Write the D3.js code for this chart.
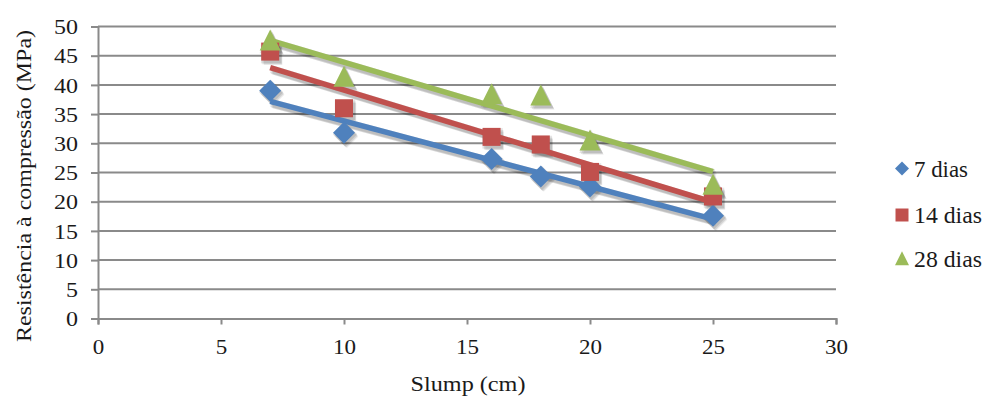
<!DOCTYPE html>
<html>
<head>
<meta charset="utf-8">
<script src="https://cdn.jsdelivr.net/npm/d3@7"></script>
</head>
<body style="margin:0;background:#fff">
<svg id="chart" width="985" height="396" style="display:block"></svg>
<script>
// Slump (cm) tested for each mix
const slump = [7, 10, 16, 18, 20, 25];

// Compressive strength (MPa) at each curing age
const dias7  = [39.0, 31.8, 27.3, 24.3, 22.6, 17.6];
const dias14 = [45.7, 36.0, 31.1, 29.8, 25.1, 20.9];
const dias28 = [47.5, 41.3, 38.3, 38.1, 30.4, 22.8];

const seriesNames  = ["7 dias", "14 dias", "28 dias"];
const seriesColors = ["#4F81BD", "#C0504D", "#9BBB59"];
const seriesShapes = ["diamond", "square", "triangle"];

const xTicks = [0, 5, 10, 15, 20, 25, 30];
const yTicks = [0, 5, 10, 15, 20, 25, 30, 35, 40, 45, 50];

const xTitle = "Slump (cm)";
const yTitle = "Resistência à compressão (MPa)";

const FONT = "Liberation Serif, Times New Roman, DejaVu Serif, serif";
const INK = "#1a1a1a";

const svg = d3.select("#chart");

const x = d3.scaleLinear().domain([0, 30]).range([98, 836]);
const y = d3.scaleLinear().domain([0, 50]).range([318.5, 26.5]);

// wide serif lettering: glyph height from font-size, run width from textLength
function styleText(sel, size, width) {
  sel.attr("font-family", FONT).attr("font-size", size).attr("fill", INK);
  if (width) sel.attr("textLength", width).attr("lengthAdjust", "spacingAndGlyphs");
  return sel;
}

const gridColor = "#8a8a8a";

// horizontal gridlines
svg.append("g").selectAll("line").data(yTicks.filter(d => d > 0)).join("line")
  .attr("x1", x(0)).attr("x2", x(30))
  .attr("y1", d => y(d)).attr("y2", d => y(d))
  .attr("stroke", gridColor).attr("stroke-width", 2);

// y axis
const yAxis = d3.axisLeft(y).tickValues(yTicks).tickSize(7).tickPadding(13).tickFormat(d3.format("d"));
const gy = svg.append("g").attr("transform", `translate(${x(0)},0)`).call(yAxis)
  .attr("font-family", FONT);
gy.select(".domain").attr("stroke", gridColor).attr("stroke-width", 2);
gy.selectAll(".tick line").attr("stroke", gridColor).attr("stroke-width", 2);
gy.selectAll(".tick text").attr("dy", "0.36em")
  .each(function(d) { styleText(d3.select(this), 20, String(d).length * 12); });

// x axis
const xAxis = d3.axisBottom(x).tickValues(xTicks).tickSize(6).tickPadding(15).tickFormat(d3.format("d"));
const gx = svg.append("g").attr("transform", `translate(0,${y(0)})`).call(xAxis)
  .attr("font-family", FONT);
gx.select(".domain").attr("stroke", gridColor).attr("stroke-width", 2);
gx.selectAll(".tick line").attr("stroke", gridColor).attr("stroke-width", 2);
gx.selectAll(".tick text")
  .each(function(d) { styleText(d3.select(this), 21, String(d).length * 11.5); });

// axis titles
styleText(svg.append("text").attr("x", 468).attr("y", 391).attr("text-anchor", "middle")
  .text(xTitle), 22, 115);
styleText(svg.append("text").attr("transform", "translate(31,186) rotate(-90)")
  .attr("text-anchor", "middle").text(yTitle), 21, 312);

// marker paths
function markerPath(shape, s) {
  if (shape === "diamond") return `M0,${-s}L${s},0L0,${s}L${-s},0Z`;
  if (shape === "square") return `M${-s},${-s}H${s}V${s}H${-s}Z`;
  return `M0,${-s * 1.1}L${s},${s * 0.9}L${-s},${s * 0.9}Z`;
}

// least-squares linear trendline
function fit(xs, ys) {
  const mx = d3.mean(xs), my = d3.mean(ys);
  const sxy = d3.sum(xs, (v, i) => (v - mx) * (ys[i] - my));
  const sxx = d3.sum(xs, v => (v - mx) ** 2);
  const b = sxy / sxx;
  return v => my + b * (v - mx);
}

const allSeries = [dias7, dias14, dias28];
const xMin = d3.min(slump), xMax = d3.max(slump);

// soft shadow built from a few offset translucent copies
const shadowSteps = [[1, 1.5, 0.10, 2.5], [2, 3, 0.10, 1.5], [3, 4, 0.07, 0.5]];

const shadows = svg.append("g");
const plot = svg.append("g");

allSeries.forEach((vals, i) => {
  const t = fit(slump, vals);
  shadowSteps.forEach(([dx, dy, op, grow]) => {
    shadows.append("line")
      .attr("x1", x(xMin) + dx).attr("y1", y(t(xMin)) + dy)
      .attr("x2", x(xMax) + dx).attr("y2", y(t(xMax)) + dy)
      .attr("stroke", "#000").attr("stroke-opacity", op).attr("stroke-width", 5.5 + grow);
  });
  plot.append("line")
    .attr("x1", x(xMin)).attr("y1", y(t(xMin)))
    .attr("x2", x(xMax)).attr("y2", y(t(xMax)))
    .attr("stroke", seriesColors[i]).attr("stroke-width", 5.5);
});

allSeries.forEach((vals, i) => {
  const size = seriesShapes[i] === "square" ? 9 : (seriesShapes[i] === "diamond" ? 11 : 10.5);
  shadowSteps.forEach(([dx, dy, op, grow]) => {
    shadows.append("g").selectAll("path").data(vals).join("path")
      .attr("transform", (d, j) => `translate(${x(slump[j]) + dx},${y(d) + dy})`)
      .attr("d", markerPath(seriesShapes[i], size + grow / 2))
      .attr("fill", "#000").attr("fill-opacity", op);
  });
  plot.append("g").selectAll("path").data(vals).join("path")
    .attr("transform", (d, j) => `translate(${x(slump[j])},${y(d)})`)
    .attr("d", markerPath(seriesShapes[i], size))
    .attr("fill", seriesColors[i]);
});

// legend
const legendRows = [168.5, 215, 259];
const legendWidths = [54, 68, 68];
const legend = svg.append("g");
seriesNames.forEach((name, i) => {
  const s = seriesShapes[i] === "square" ? 6.5 : 7;
  legend.append("path")
    .attr("transform", `translate(902,${legendRows[i]})`)
    .attr("d", markerPath(seriesShapes[i], s))
    .attr("fill", seriesColors[i]);
  styleText(legend.append("text").attr("x", 914).attr("y", legendRows[i] + 8).text(name),
    23, legendWidths[i]);
});
</script>
</body>
</html>
